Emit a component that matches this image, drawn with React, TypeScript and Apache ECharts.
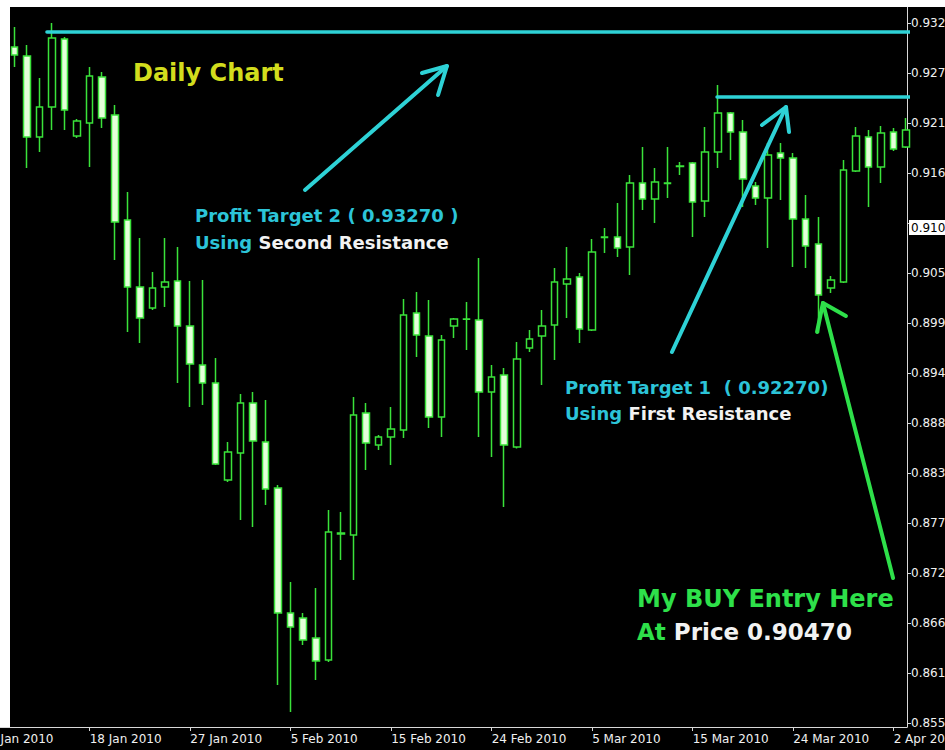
import React, { useEffect, useRef } from 'react';
import * as echarts from 'echarts';

// ---- data (AUD/USD daily) ----
const dates = [
  '11 Jan', '12 Jan', '13 Jan', '14 Jan', '15 Jan', '17 Jan', '18 Jan', '19 Jan', '20 Jan', '21 Jan',
  '22 Jan', '24 Jan', '25 Jan', '26 Jan', '27 Jan', '28 Jan', '29 Jan', '31 Jan', '1 Feb', '2 Feb',
  '3 Feb', '4 Feb', '5 Feb', '7 Feb', '8 Feb', '9 Feb', '10 Feb', '11 Feb', '12 Feb', '14 Feb',
  '15 Feb', '16 Feb', '17 Feb', '18 Feb', '19 Feb', '21 Feb', '22 Feb', '23 Feb', '24 Feb', '25 Feb',
  '26 Feb', '28 Feb', '1 Mar', '2 Mar', '3 Mar', '4 Mar', '5 Mar', '7 Mar', '8 Mar', '9 Mar',
  '10 Mar', '11 Mar', '12 Mar', '14 Mar', '15 Mar', '16 Mar', '17 Mar', '18 Mar', '19 Mar', '21 Mar',
  '22 Mar', '23 Mar', '24 Mar', '25 Mar', '26 Mar', '28 Mar', '29 Mar', '30 Mar', '31 Mar', '1 Apr',
  '2 Apr', '4 Apr',
];
const opens = [
  0.92986, 0.92887, 0.91996, 0.92326, 0.93074, 0.92007, 0.92150, 0.92656, 0.92238, 0.91083,
  0.90346, 0.90115, 0.90346, 0.90412, 0.89917, 0.89488, 0.89290, 0.88223, 0.88520, 0.89070,
  0.88641, 0.88135, 0.86760, 0.86705, 0.86485, 0.86243, 0.87640, 0.87618, 0.88960, 0.88608,
  0.88696, 0.88773, 0.90060, 0.89807, 0.88916, 0.89917, 0.89994, 0.89983, 0.89191, 0.89378,
  0.88586, 0.89675, 0.89807, 0.89928, 0.90379, 0.90456, 0.89873, 0.90896, 0.90896, 0.90786,
  0.91490, 0.91314, 0.91490, 0.91677, 0.91710, 0.91292, 0.91831, 0.92260, 0.92051, 0.91457,
  0.91325, 0.91820, 0.91765, 0.91094, 0.90819, 0.90335, 0.90401, 0.91622, 0.91996, 0.91666,
  0.92051, 0.91886,
];
const closes = [
  0.92898, 0.91996, 0.92326, 0.93085, 0.92293, 0.92172, 0.92667, 0.92205, 0.91061, 0.90346,
  0.90005, 0.90335, 0.90401, 0.89917, 0.89499, 0.89290, 0.88399, 0.88531, 0.89070, 0.88652,
  0.88124, 0.86760, 0.86606, 0.86463, 0.86232, 0.87651, 0.87630, 0.88938, 0.88630, 0.88696,
  0.88784, 0.90038, 0.89818, 0.88916, 0.89763, 0.89994, 0.89990, 0.89191, 0.89356, 0.88608,
  0.89554, 0.89774, 0.89917, 0.90401, 0.90434, 0.89884, 0.90731, 0.90890, 0.90775, 0.91490,
  0.91314, 0.91501, 0.91485, 0.91672, 0.91281, 0.91831, 0.92260, 0.92051, 0.91534, 0.91325,
  0.91798, 0.91765, 0.91094, 0.90797, 0.90258, 0.90423, 0.91633, 0.92007, 0.91666, 0.92040,
  0.91864, 0.92073,
];
const lows = [
  0.92766, 0.91655, 0.91831, 0.92073, 0.92073, 0.91985, 0.91666, 0.92095, 0.90643, 0.89851,
  0.89730, 0.90093, 0.90126, 0.89290, 0.89026, 0.89048, 0.88388, 0.88201, 0.87783, 0.87706,
  0.87948, 0.85968, 0.85671, 0.86408, 0.86023, 0.86221, 0.87343, 0.87123, 0.88333, 0.88553,
  0.88388, 0.88685, 0.89576, 0.88795, 0.88696, 0.89785, 0.89653, 0.88696, 0.88476, 0.87926,
  0.88570, 0.89631, 0.89268, 0.89543, 0.90005, 0.89730, 0.89862, 0.90720, 0.90676, 0.90478,
  0.91193, 0.91050, 0.91325, 0.91578, 0.90896, 0.91116, 0.91655, 0.91743, 0.91226, 0.91248,
  0.90775, 0.91303, 0.90566, 0.90555, 0.89840, 0.90280, 0.90390, 0.91611, 0.91226, 0.91490,
  0.91842, 0.91875,
];
const highs = [
  0.93206, 0.93008, 0.92645, 0.93250, 0.93096, 0.92194, 0.92766, 0.92711, 0.92348, 0.91391,
  0.90885, 0.90511, 0.90885, 0.90786, 0.90412, 0.90423, 0.89565, 0.88641, 0.89169, 0.89191,
  0.89103, 0.88168, 0.87101, 0.86760, 0.87035, 0.87893, 0.87871, 0.89136, 0.89070, 0.88718,
  0.89026, 0.90214, 0.90291, 0.90203, 0.89818, 0.90005, 0.90181, 0.90665, 0.89488, 0.89455,
  0.89741, 0.89873, 0.90093, 0.90555, 0.90786, 0.90500, 0.90874, 0.90995, 0.91270, 0.91578,
  0.91886, 0.91655, 0.91886, 0.91721, 0.91721, 0.92106, 0.92568, 0.92271, 0.92183, 0.91501,
  0.91930, 0.91930, 0.91820, 0.91358, 0.91116, 0.90467, 0.91743, 0.92106, 0.92073, 0.92117,
  0.92095, 0.92205,
];

// bar index of each date label (index 0 = 11 Jan; "8 Jan" sits two bars before)
const xTickPositions = [-2, 6, 14, 22, 30, 38, 46, 54, 62, 70];
const xTickLabels = [
  '8 Jan 2010', '18 Jan 2010', '27 Jan 2010', '5 Feb 2010', '15 Feb 2010',
  '24 Feb 2010', '5 Mar 2010', '15 Mar 2010', '24 Mar 2010', '2 Apr 2010',
];
const yTicks = [
  0.8555, 0.8610, 0.8665, 0.8720, 0.8775, 0.8830, 0.8885, 0.8940,
  0.8995, 0.9050, 0.9105, 0.9160, 0.9215, 0.9270, 0.9325,
];
const yTickLabels = [
  '0.855', '0.861', '0.866', '0.872', '0.877', '0.883', '0.888', '0.894',
  '0.899', '0.905', '', '0.916', '0.921', '0.927', '0.932',
];
const lastPrice = 0.91;
const lastPriceLabel = '0.910';

// hand-drawn annotations, in [bar index, price]
const target2Line = [[2.6, 0.93151], [71.46, 0.93151]];
const target1Line = [[55.94, 0.92436], [71.3, 0.92436]];
const arrow2Shaft = [[23.14, 0.91413], [34.44, 0.92777]];
const arrow2Head = [[32.45, 0.927], [34.44, 0.92777], [33.73, 0.92458]];
const arrow1Shaft = [[52.35, 0.89631], [61.43, 0.92326]];
const arrow1Head = [[59.52, 0.92128], [61.43, 0.92326], [61.67, 0.92051]];
const entryShaft = [[69.95, 0.87145], [64.37, 0.9017]];
const entryHead = [[63.9, 0.89851], [64.37, 0.9017], [66.2, 0.90027]];

const CYAN = '#2ed2d6';
const CYAN_TEXT = '#2cc4d8';
const GREEN = '#2ee04a';
const WHITE_TEXT = '#f2f2f2';
const AXIS = '#d8d8d8';
const FONT = '"DejaVu Sans", Verdana, sans-serif';

export default function App() {
  const ref = useRef<HTMLDivElement>(null);

  useEffect(() => {
    if (!ref.current) return;
    const chart = echarts.init(ref.current, null, { renderer: 'svg' });

    const candleData = dates.map((_, i) => [i, opens[i], closes[i], lows[i], highs[i]]);

    const annoLine = (data: number[][], color: string, width: number, extra: any = {}) => ({
      type: 'line',
      data,
      symbol: 'none',
      silent: true,
      clip: false,
      z: 5,
      lineStyle: { color, width, cap: 'round', join: 'round' },
      ...extra,
    });

    const bold = (size: number, fill: string) => ({
      fill,
      fontSize: size,
      fontWeight: 'bold',
      fontFamily: FONT,
    });

    chart.setOption({
      animation: false,
      backgroundColor: '#000000',
      grid: {
        left: -20,
        right: 38,
        top: 7,
        bottom: 23,
        containLabel: false,
        outerBoundsMode: 'none',
      },
      xAxis: {
        type: 'value',
        min: (-20 - 14.3) / 12.5625,
        max: (907 - 14.3) / 12.5625,
        splitLine: { show: false },
        axisLine: { show: true, onZero: false, lineStyle: { color: AXIS, width: 1 } },
        axisTick: { show: true, length: 4, customValues: xTickPositions, lineStyle: { color: AXIS } },
        axisLabel: {
          customValues: xTickPositions,
          formatter: (v: number) => {
            const idx = xTickPositions.indexOf(Math.round(v));
            return idx >= 0 ? xTickLabels[idx] : '';
          },
          color: '#f0f0f0',
          fontFamily: FONT,
          fontSize: 12,
          align: 'left',
          margin: 6,
        },
      },
      yAxis: {
        type: 'value',
        position: 'right',
        min: 0.85506,
        max: 0.93426,
        scale: true,
        splitLine: { show: false },
        axisLine: { show: true, onZero: false, lineStyle: { color: AXIS, width: 1 } },
        axisTick: { show: true, length: 4, customValues: yTicks, lineStyle: { color: AXIS } },
        axisLabel: {
          customValues: yTicks,
          formatter: (v: number) => {
            const idx = yTicks.findIndex((t) => Math.abs(t - v) < 1e-6);
            return idx >= 0 ? yTickLabels[idx] : '';
          },
          color: '#f0f0f0',
          fontFamily: FONT,
          fontSize: 12,
          margin: 4,
        },
      },
      series: [
        {
          type: 'candlestick',
          data: candleData,
          barWidth: 7,
          clip: true,
          z: 2,
          silent: true,
          itemStyle: {
            color: '#000000',
            color0: '#e4ffda',
            borderColor: '#3ae23a',
            borderColor0: '#3ae23a',
            borderWidth: 1.5,
          },
        },
        annoLine(target2Line, CYAN, 3.5, {
          markLine: {
            silent: true,
            symbol: ['none', 'none'],
            lineStyle: { width: 0, color: 'rgba(0,0,0,0)' },
            label: {
              show: true,
              position: 'end',
              distance: 2,
              formatter: lastPriceLabel,
              backgroundColor: '#ffffff',
              color: '#000000',
              fontFamily: FONT,
              fontSize: 12,
              padding: [2, 2, 1, 2],
            },
            data: [{ yAxis: lastPrice }],
          },
        }),
        annoLine(target1Line, CYAN, 3.5),
        annoLine(arrow2Shaft, CYAN, 4),
        annoLine(arrow2Head, CYAN, 4),
        annoLine(arrow1Shaft, CYAN, 4),
        annoLine(arrow1Head, CYAN, 4),
        annoLine(entryShaft, GREEN, 4),
        annoLine(entryHead, GREEN, 4),
      ],
      graphic: [
        { type: 'rect', z: 100, silent: true, shape: { x: 0, y: 0, width: 945, height: 7 }, style: { fill: '#ffffff' } },
        { type: 'rect', z: 100, silent: true, shape: { x: 0, y: 0, width: 10, height: 727 }, style: { fill: '#ffffff' } },
        {
          type: 'text', z: 100, silent: true, x: 133, y: 73,
          style: { text: 'Daily Chart', verticalAlign: 'middle', ...bold(24, '#d2dd1d') },
        },
        {
          type: 'text', z: 100, silent: true, x: 195, y: 215,
          style: { text: 'Profit Target 2 ( 0.93270 )', verticalAlign: 'middle', ...bold(18, CYAN_TEXT) },
        },
        {
          type: 'text', z: 100, silent: true, x: 195, y: 242,
          style: {
            text: '{c|Using }{w|Second Resistance}',
            verticalAlign: 'middle',
            ...bold(18, CYAN_TEXT),
            rich: { c: bold(18, CYAN_TEXT), w: bold(18, WHITE_TEXT) },
          },
        },
        {
          type: 'text', z: 100, silent: true, x: 565, y: 387,
          style: { text: 'Profit Target 1  ( 0.92270)', verticalAlign: 'middle', ...bold(18, CYAN_TEXT) },
        },
        {
          type: 'text', z: 100, silent: true, x: 565, y: 413,
          style: {
            text: '{c|Using }{w|First Resistance}',
            verticalAlign: 'middle',
            ...bold(18, CYAN_TEXT),
            rich: { c: bold(18, CYAN_TEXT), w: bold(18, WHITE_TEXT) },
          },
        },
        {
          type: 'text', z: 100, silent: true, x: 637, y: 599,
          style: { text: 'My BUY Entry Here', verticalAlign: 'middle', ...bold(24, GREEN) },
        },
        {
          type: 'text', z: 100, silent: true, x: 637, y: 632,
          style: {
            text: '{g|At }{w|Price 0.90470}',
            verticalAlign: 'middle',
            ...bold(23, GREEN),
            rich: { g: bold(23, GREEN), w: bold(23, WHITE_TEXT) },
          },
        },
      ],
    });

    return () => chart.dispose();
  }, []);

  return (
    <div
      ref={ref}
      style={{ position: 'absolute', left: 0, top: 0, width: 945, height: 750 }}
    />
  );
}
